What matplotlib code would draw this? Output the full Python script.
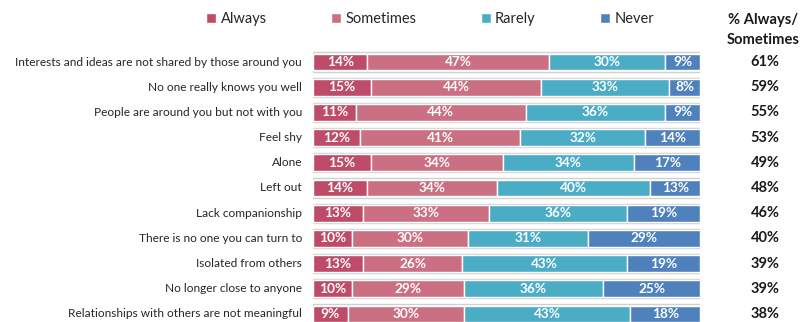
import matplotlib
matplotlib.use('Agg')
import matplotlib.pyplot as plt
from matplotlib.patches import Patch
import numpy as np

plt.rcParams['font.family'] = ['Lato', 'DejaVu Sans']

statements = [
    'Interests and ideas are not shared by those around you',
    'No one really knows you well',
    'People are around you but not with you',
    'Feel shy',
    'Alone',
    'Left out',
    'Lack companionship',
    'There is no one you can turn to',
    'Isolated from others',
    'No longer close to anyone',
    'Relationships with others are not meaningful',
]
always = [14, 15, 11, 12, 15, 14, 13, 10, 13, 10, 9]
sometimes = [47, 44, 44, 41, 34, 34, 33, 30, 26, 29, 30]
rarely = [30, 33, 36, 32, 34, 40, 36, 31, 43, 36, 43]
never = [9, 8, 9, 14, 17, 13, 19, 29, 19, 25, 18]
always_sometimes = [61, 59, 55, 53, 49, 48, 46, 40, 39, 39, 38]

series_names = ['Always', 'Sometimes', 'Rarely', 'Never']
colors = ['#BE4B68', '#CB7082', '#4BACC6', '#4F81BD']

W, H = 804, 322
fig = plt.figure(figsize=(W / 100, H / 100), dpi=100)

# bars area in pixel coordinates
x0, x1 = 313, 700
ax = fig.add_axes([x0 / W, 0, (x1 - x0) / W, 1])
row_top, row_step = 62, 25.2
ax.set_ylim(10 + (H - row_top - 10 * row_step) / row_step, -row_top / row_step)
ax.set_xlim(0, 100)
ax.axis('off')

data = np.array([always, sometimes, rarely, never], dtype=float)
shares = data / data.sum(axis=0) * 100
y = np.arange(len(statements))
bar_h = 0.66

# light grey frame around each full bar
ax.barh(y, 100, height=bar_h + 0.1, left=0, color='none',
        edgecolor='#D0D0D0', linewidth=1.0, zorder=1)

left = np.zeros(len(statements))
for i, name in enumerate(series_names):
    ax.barh(y, shares[i], height=bar_h, left=left, color=colors[i],
            edgecolor='white', linewidth=1.0, zorder=2)
    for j in range(len(statements)):
        ax.text(left[j] + shares[i][j] / 2, y[j], f'{int(data[i][j])}%',
                ha='center', va='center', color='white', fontsize=9.8,
                fontweight='bold', zorder=3)
    left += shares[i]

# statement labels on the left
for j, s in enumerate(statements):
    ax.text(-11 / (x1 - x0) * 100, y[j], s, ha='right', va='center',
            fontsize=8.6, color='#262626')

# totals column
tx = 763 / W
fig.text(tx, 1 - 20 / H, '% Always/', ha='center', va='center',
         fontsize=10.6, fontweight='bold', color='#1A1A1A')
fig.text(tx, 1 - 40 / H, 'Sometimes', ha='center', va='center',
         fontsize=10.6, fontweight='bold', color='#1A1A1A')
for j, v in enumerate(always_sometimes):
    ax.text((765 - x0) / (x1 - x0) * 100, y[j], f'{v}%', ha='center',
            va='center', fontsize=10.5, fontweight='bold', color='#1A1A1A')

handles = [Patch(facecolor=c, edgecolor='white') for c in colors]
fig.legend(handles, series_names, loc='center', ncol=4,
           bbox_to_anchor=(430 / W, 1 - 19 / H), frameon=False,
           fontsize=10.5, handlelength=0.7, handleheight=0.7,
           handletextpad=0.3, columnspacing=4.4, labelcolor='#262626')

fig.savefig('out.png', dpi=100)
